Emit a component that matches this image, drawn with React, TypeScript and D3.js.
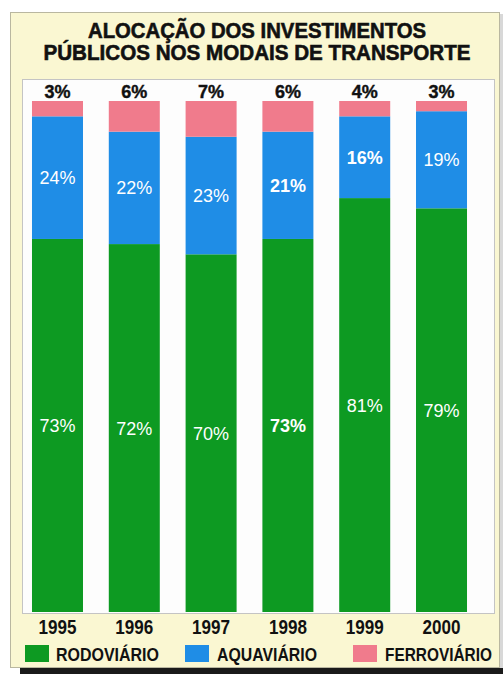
import React from "react";
import * as d3 from "d3";

const years = ["1995", "1996", "1997", "1998", "1999", "2000"];
const rodoviario = [73, 72, 70, 73, 81, 79];
const aquaviario = [24, 22, 23, 21, 16, 19];
const ferroviario = [3, 6, 7, 6, 4, 3];
const seriesNames = ["RODOVIÁRIO", "AQUAVIÁRIO", "FERROVIÁRIO"];
const titleLines = ["ALOCAÇÃO DOS INVESTIMENTOS", "PÚBLICOS NOS MODAIS DE TRANSPORTE"];

const W = 503;
const H = 674;
const colors = ["#0d9a22", "#1f8de6", "#f07b8c"];
const FONT = "'Liberation Sans Narrow', 'Arial Narrow', 'Liberation Sans', Arial, sans-serif";

export default function App() {
  const rows = years.map((y, i) => ({
    year: y,
    v: [rodoviario[i], aquaviario[i], ferroviario[i]],
  }));
  const x = d3
    .scaleBand<string>()
    .domain(years)
    .range([19.7, 479.3])
    .paddingInner(0.336)
    .paddingOuter(0.16);
  const y = d3.scaleLinear().domain([0, 100]).range([612, 101]);
  const bw = x.bandwidth();

  const legendX = [25, 185, 353];
  const legendTextX = [56, 217, 385];
  const legendTextW = [103, 100, 107];
  const titleW = [338, 427];

  const boldLabel = (year: string, k: number) =>
    year === "1998" || (year === "1999" && k === 1);

  return (
    <svg
      width={W}
      height={H}
      style={{ position: "absolute", left: 0, top: 0, fontFamily: FONT }}
    >
      <rect x={0} y={0} width={W} height={H} fill="#ffffff" />
      {/* shadow */}
      <rect x={20} y={668} width={483} height={6} fill="#1a1a1a" />
      <rect x={500} y={14} width={3} height={654} fill="#d8d8d8" />
      {/* outer panel */}
      <rect x={10.5} y={12.5} width={489} height={655} fill="#faf7d2" stroke="#b9b7a0" strokeWidth={1} />
      {/* inner panel */}
      <rect x={22.5} y={79.5} width={472} height={534} fill="#fdfdfd" stroke="#c4c4c4" strokeWidth={1} />

      {titleLines.map((t, i) => (
        <text
          key={t}
          x={257}
          y={38 + i * 22}
          textAnchor="middle"
          fontSize={22}
          fontWeight="bold"
          fill="#111"
          stroke="#111"
          strokeWidth={0.6}
          textLength={titleW[i]}
          lengthAdjust="spacingAndGlyphs"
        >
          {t}
        </text>
      ))}

      {rows.map((r) => {
        let cum = 0;
        const x0 = x(r.year)!;
        return (
          <g key={r.year}>
            {r.v.map((v, k) => {
              const lo = cum;
              const hi = Math.min(100, cum + v);
              cum += v;
              const yt = y(hi);
              const yb = y(lo);
              return (
                <g key={k}>
                  <rect x={x0} y={yt} width={bw} height={yb - yt} fill={colors[k]} />
                  {k < 2 && (
                    <text
                      x={x0 + bw / 2}
                      y={(yt + yb) / 2 + 6.5}
                      textAnchor="middle"
                      fontSize={18}
                      fontWeight={boldLabel(r.year, k) ? "bold" : "normal"}
                      fill="#ffffff"
                    >
                      {v}%
                    </text>
                  )}
                </g>
              );
            })}
            <text
              x={x0 + bw / 2}
              y={98}
              textAnchor="middle"
              fontSize={18}
              fontWeight="bold"
              fill="#111"
              stroke="#111"
              strokeWidth={0.4}
            >
              {r.v[2]}%
            </text>
            <text
              x={x0 + bw / 2}
              y={634}
              textAnchor="middle"
              fontSize={20}
              fontWeight="bold"
              fill="#111"
              textLength={38}
              lengthAdjust="spacingAndGlyphs"
            >
              {r.year}
            </text>
          </g>
        );
      })}

      {seriesNames.map((n, k) => (
        <g key={n}>
          <rect x={legendX[k]} y={645} width={24} height={17} fill={colors[k]} />
          <text
            x={legendTextX[k]}
            y={661}
            fontSize={18}
            fontWeight="bold"
            fill="#111"
            textLength={legendTextW[k]}
            lengthAdjust="spacingAndGlyphs"
          >
            {n}
          </text>
        </g>
      ))}
    </svg>
  );
}
